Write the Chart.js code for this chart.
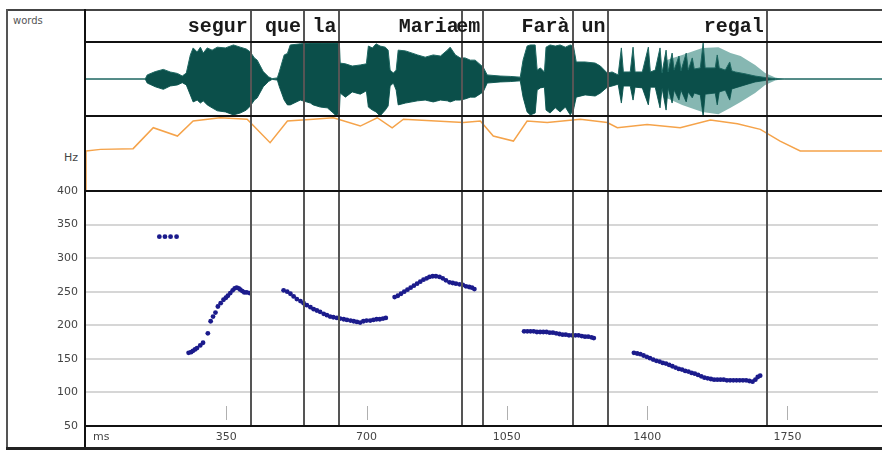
<!DOCTYPE html>
<html>
<head>
<meta charset="utf-8">
<script src="https://cdn.jsdelivr.net/npm/chart.js@4.4.1/dist/chart.umd.min.js"></script>
<style>
  html, body { margin: 0; padding: 0; background: #fff; }
  #stage { position: relative; width: 882px; height: 451px; overflow: hidden; font-family: "DejaVu Sans", sans-serif; }
  canvas { position: absolute; }
  .ln { position: absolute; background: #111; }
  .lbl { position: absolute; color: #444; font-size: 11px; line-height: 12px; }
</style>
</head>
<body>
<div id="stage">
  <canvas id="wave" width="796" height="74" style="left:86px;top:42px"></canvas>
  <canvas id="intensity" width="796" height="74" style="left:86px;top:117px"></canvas>
  <canvas id="pitch" width="875" height="268" style="left:7px;top:181px"></canvas>
  <canvas id="tiers" width="796" height="416" style="left:86px;top:10px"></canvas>

  <div class="ln" style="left:6px;top:9px;width:876px;height:2px;background:#444"></div>
  <div class="ln" style="left:6px;top:9px;width:2px;height:441px;background:#555"></div>
  <div class="ln" style="left:84px;top:9px;width:2px;height:441px"></div>
  <div class="ln" style="left:84px;top:41px;width:798px;height:2px"></div>
  <div class="ln" style="left:84px;top:115px;width:798px;height:2px"></div>
  <div class="ln" style="left:84px;top:190px;width:798px;height:2px"></div>
  <div class="ln" style="left:84px;top:425px;width:798px;height:2px"></div>
  <div class="ln" style="left:6px;top:447px;width:876px;height:3px;background:#222"></div>

  <div class="lbl" style="left:13px;top:15px;font-size:10px;color:#555">words</div>
  <div class="lbl" style="left:50px;top:152px;width:28px;text-align:right">Hz</div>
  <div class="lbl" style="left:93px;top:431px">ms</div>
</div>

<script>
// time axis (ms)
const X_MAX = 1976;
const msTicks = [350, 700, 1050, 1400, 1750];
const hzTicks = [50, 100, 150, 200, 250, 300, 350, 400];

// word tier: labels and their right boundaries (ms)
const words = ['segur', 'que', 'la', 'Maria', 'em', 'Farà', 'un', 'regal'];
const wordEnds = [409, 541, 629, 933, 986, 1208, 1297, 1690];

// waveform envelope (relative amplitude)
const waveMs = [0, 147, 152, 172, 192, 209, 227, 239, 249, 259,
  266, 276, 284, 291, 301, 313, 326, 346, 366, 383,
  398, 408, 418, 425, 440, 453, 462, 475, 480, 492,
  500, 507, 532, 557, 564, 582, 599, 614, 621, 629,
  631, 644, 661, 681, 696, 701, 711, 720, 730, 743,
  750, 755, 763, 770, 775, 793, 823, 842, 862, 880,
  897, 904, 917, 929, 941, 954, 966, 986, 996, 1028,
  1053, 1078, 1085, 1095, 1103, 1115, 1120, 1128, 1138, 1142,
  1152, 1165, 1177, 1190, 1202, 1210, 1217, 1239, 1264, 1277,
  1294, 1306, 1321, 1329, 1334, 1351, 1358, 1363, 1381, 1396,
  1401, 1413, 1425, 1430, 1440, 1445, 1455, 1460, 1472, 1477,
  1490, 1495, 1505, 1510, 1525, 1532, 1537, 1562, 1567, 1572,
  1587, 1598, 1603, 1612, 1636, 1661, 1686, 1711, 1735, 1976];
const waveHi = [0, 0, .11, .20, .26, .19, .15, .08, .16, .65,
  .84, .73, .86, .70, .84, .78, .86, .84, .92, .86,
  .81, .73, .57, .51, .20, .06, .01, .03, .20, .65,
  .69, .92, .95, .97, .97, .97, .97, .97, .97, .97,
  .43, .41, .35, .38, .41, .89, .84, .95, .89, .86,
  .78, .24, .16, .24, .78, .76, .65, .59, .65, .62,
  .78, .86, .65, .57, .57, .51, .51, .32, .11, .08,
  .07, .05, .51, .89, .92, .92, .24, .30, .19, .86,
  .92, .89, .92, .86, .92, .89, .46, .46, .43, .35,
  .16, .19, .11, .84, .19, .19, .86, .19, .19, .86,
  .19, .24, .84, .16, .78, .19, .70, .24, .62, .22,
  .70, .24, .57, .27, .30, .97, .30, .30, .65, .30,
  .24, .46, .22, .19, .14, .08, .04, .01, 0, 0];
const waveLo = [0, 0, -.11, -.21, -.28, -.19, -.16, -.10, -.16, -.43,
  -.62, -.57, -.65, -.59, -.70, -.78, -.86, -.89, -.97, -.92,
  -.84, -.73, -.57, -.51, -.21, -.07, -.01, -.03, -.21, -.57,
  -.70, -.70, -.57, -.65, -.70, -.76, -.78, -.92, -1, -.89,
  -.38, -.49, -.35, -.41, -.32, -.76, -.84, -.89, -1, -.84,
  -.73, -.19, -.11, -.30, -.70, -.65, -.59, -.57, -.62, -.57,
  -.59, -.62, -.57, -.57, -.54, -.49, -.49, -.35, -.11, -.08,
  -.07, -.05, -.49, -.89, -.97, -.92, -.30, -.24, -.22, -.84,
  -.92, -.78, -.89, -.76, -.97, -.84, -.49, -.43, -.46, -.38,
  -.22, -.19, -.14, -.65, -.19, -.19, -.57, -.22, -.24, -.70,
  -.22, -.22, -.78, -.24, -.84, -.24, -.65, -.30, -.57, -.30,
  -.62, -.35, -.51, -.38, -.43, -1, -.41, -.38, -.70, -.35,
  -.30, -.57, -.27, -.24, -.16, -.08, -.04, -.01, 0, 0];
// lighter outer envelope under "regal"
const glowMs = [1425, 1440, 1480, 1530, 1570, 1600, 1625, 1661, 1686, 1711, 1730];
const glowHi = [0, .51, .65, .84, .86, .70, .62, .38, .16, .04, 0];
const glowLo = [0, -.51, -.70, -.89, -.95, -.78, -.62, -.38, -.16, -.04, 0];

// intensity contour (dB)
const intMs = [0, 0, 36, 117, 167, 227, 266, 333, 400, 457, 500, 564, 614, 681, 723, 760, 788,
  937, 979, 1011, 1061, 1095, 1145, 1227, 1294, 1319, 1393, 1475, 1550, 1617, 1674, 1723, 1773, 1976];
const intDb = [40, 61.6, 62.5, 62.9, 74.2, 69.7, 77.8, 79.6, 78.8, 66.1, 77.8, 78.8, 79.6, 75.1, 79.6, 74.1, 78.8,
  77.0, 77.8, 69.7, 67.0, 77.8, 77.0, 78.8, 77.0, 74.2, 75.9, 74.2, 78.4, 76.4, 73.3, 67.0, 61.6, 61.6];

// pitch track (ms, Hz)
const pitchMs = [183, 197, 211, 226,
  256, 262, 267, 272, 277, 285, 292, 304, 311, 317, 323, 329, 336, 343, 349, 354, 360, 366, 371, 376, 381, 385, 390, 395, 401, 408,
  493, 502, 510, 518, 526, 535, 543, 551, 560, 568, 576, 584, 593, 601, 609, 617, 626, 634, 643, 651, 660, 668, 676, 684, 692, 700, 709, 717, 725, 733, 741, 748,
  770, 778, 786, 794, 802, 810, 818, 826, 834, 842, 850, 857, 865, 873, 882, 890, 898, 907, 915, 923, 932, 940, 948, 956, 963, 969,
  1093, 1101, 1109, 1117, 1125, 1133, 1141, 1149, 1157, 1165, 1173, 1181, 1189, 1197, 1205, 1213, 1221, 1229, 1237, 1245, 1253, 1261, 1267,
  1367, 1375, 1383, 1391, 1399, 1407, 1415, 1423, 1431, 1439, 1447, 1455, 1463, 1471, 1479, 1487, 1495, 1503, 1511, 1519, 1527,
  1535, 1543, 1551, 1559, 1567, 1575, 1583, 1591, 1599, 1607, 1615, 1623, 1631, 1639, 1647, 1655, 1663, 1670, 1676, 1682];
const pitchHz = [332, 332, 332, 332,
  159, 160, 162, 164, 166, 170, 174, 188, 206, 213, 219, 228, 233, 238, 241, 244, 248, 252, 255, 256, 255, 253, 251, 249, 249, 248,
  252, 250, 247, 243, 239, 236, 233, 230, 227, 224, 222, 220, 217, 215, 213, 212, 211, 210, 209, 208, 207, 206, 205, 204, 206, 207, 207, 208, 209, 209, 210, 211,
  242, 244, 247, 250, 253, 256, 259, 262, 265, 268, 270, 272, 273, 273, 272, 270, 267, 264, 263, 262, 261, 260, 258, 257, 256, 254,
  191, 191, 191, 191, 190, 190, 190, 190, 189, 189, 188, 187, 186, 186, 185, 185, 185, 185, 184, 183, 183, 182, 181,
  159, 158, 157, 155, 153, 151, 149, 147, 146, 144, 143, 141, 139, 137, 135, 134, 132, 131, 129, 128, 126,
  124, 122, 121, 120, 119, 119, 119, 119, 118, 118, 118, 118, 118, 118, 118, 117, 116, 119, 123, 125];

const pairs = (xs, ys) => xs.map((x, i) => ({ x: x, y: ys[i] }));
const timeAxis = () => ({ type: 'linear', min: 0, max: X_MAX, display: false });
const baseOpts = {
  responsive: false,
  animation: false,
  events: [],
  plugins: { legend: { display: false }, tooltip: { enabled: false } },
};
const tickFont = { family: 'DejaVu Sans', size: 11 };

// waveform
new Chart(document.getElementById('wave'), {
  type: 'line',
  data: {
    datasets: [
      { data: pairs(waveMs, waveHi), fill: '+1', backgroundColor: '#0b4f4a', borderColor: '#1d6761', borderWidth: 1 },
      { data: pairs(waveMs, waveLo), fill: false, borderColor: '#1d6761', borderWidth: 1 },
      { data: pairs(glowMs, glowHi), fill: '+1', backgroundColor: '#86b7b2', borderColor: 'transparent', borderWidth: 1 },
      { data: pairs(glowMs, glowLo), fill: false, borderColor: 'transparent', borderWidth: 1 },
    ]
  },
  options: Object.assign({}, baseOpts, {
    elements: { point: { radius: 0 }, line: { tension: 0 } },
    scales: { x: timeAxis(), y: { display: false, min: -1, max: 1 } }
  })
});

// intensity
new Chart(document.getElementById('intensity'), {
  type: 'line',
  data: {
    datasets: [{ data: pairs(intMs, intDb), borderColor: '#f5a34a', borderWidth: 1.5, fill: false }]
  },
  options: Object.assign({}, baseOpts, {
    elements: { point: { radius: 0 }, line: { tension: 0 } },
    scales: { x: timeAxis(), y: { display: false, min: 40, max: 80 } }
  })
});

// small tick marks inside the pitch panel
const tickMarks = {
  id: 'tickMarks',
  beforeDatasetsDraw(chart) {
    const { ctx, chartArea, scales: { x } } = chart;
    ctx.save();
    ctx.strokeStyle = '#b0b0b0';
    ctx.lineWidth = 1;
    x.ticks.forEach(t => {
      const px = Math.round(x.getPixelForValue(t.value)) + 0.5;
      ctx.beginPath();
      ctx.moveTo(px, chartArea.bottom - 20);
      ctx.lineTo(px, chartArea.bottom - 6);
      ctx.stroke();
    });
    ctx.restore();
  }
};

// pitch
new Chart(document.getElementById('pitch'), {
  type: 'scatter',
  data: {
    datasets: [{ data: pairs(pitchMs, pitchHz), pointRadius: 2.4, pointBackgroundColor: '#1b1b8c', pointBorderWidth: 0 }]
  },
  options: Object.assign({}, baseOpts, {
    layout: { padding: { top: 10 } },
    scales: {
      x: {
        type: 'linear', min: 0, max: X_MAX,
        afterBuildTicks: s => { s.ticks = msTicks.map(v => ({ value: v })); },
        afterFit: s => { s.height = 23; s.paddingLeft = 0; s.paddingRight = 0; },
        grid: { display: false, drawTicks: false },
        border: { display: false },
        ticks: { autoSkip: false, maxRotation: 0, padding: 5, color: '#444', font: tickFont, callback: v => String(v) }
      },
      y: {
        min: 50, max: 400,
        afterBuildTicks: s => { s.ticks = hzTicks.map(v => ({ value: v })); },
        afterFit: s => { s.width = 79; s.paddingTop = 0; s.paddingBottom = 0; },
        grid: { color: '#d6d6d6', lineWidth: 2, drawTicks: false },
        border: { display: false },
        ticks: { padding: 8, color: '#444', font: tickFont, callback: v => String(v) }
      }
    }
  }),
  plugins: [tickMarks]
});

// word boundaries and labels
const tierPlugin = {
  id: 'tierPlugin',
  afterDraw(chart) {
    const { ctx, scales: { x }, height } = chart;
    ctx.save();
    ctx.strokeStyle = '#555';
    ctx.lineWidth = 2;
    wordEnds.forEach(ms => {
      const px = Math.round(x.getPixelForValue(ms));
      ctx.beginPath();
      ctx.moveTo(px, 0);
      ctx.lineTo(px, height);
      ctx.stroke();
    });
    ctx.font = 'bold 20px "Liberation Mono"';
    ctx.fillStyle = '#1a1a1a';
    ctx.textAlign = 'right';
    ctx.textBaseline = 'alphabetic';
    words.forEach((w, i) => ctx.fillText(w, x.getPixelForValue(wordEnds[i]) - 3, 22));
    ctx.restore();
  }
};

new Chart(document.getElementById('tiers'), {
  type: 'scatter',
  data: { datasets: [{ data: [] }] },
  options: Object.assign({}, baseOpts, {
    scales: { x: timeAxis(), y: { display: false, min: 0, max: 1 } }
  }),
  plugins: [tierPlugin]
});
</script>
</body>
</html>
